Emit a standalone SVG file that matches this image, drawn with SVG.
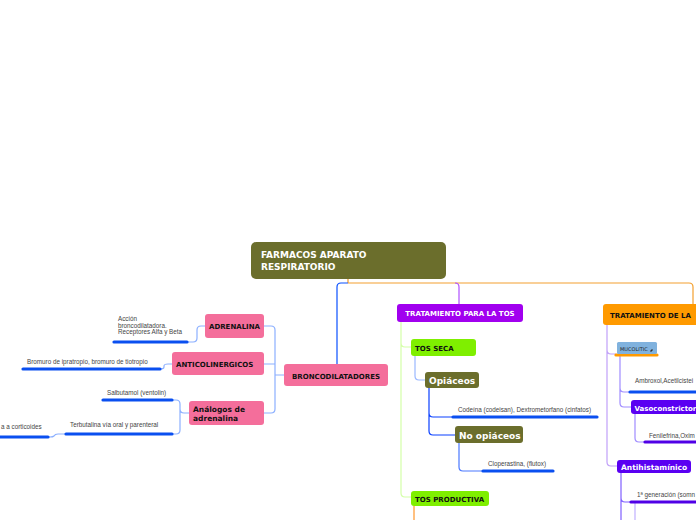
<svg xmlns="http://www.w3.org/2000/svg" width="696" height="520" viewBox="0 0 696 520">
<style>
.b{font-family:"DejaVu Sans",Verdana,sans-serif;font-weight:bold}
.s{font-family:"Liberation Sans",Arial,sans-serif;font-size:6.3px;fill:#444}
.c{fill:none;stroke-width:1.2}
.lb{stroke:#8cb0ff}
.ul{fill:none;stroke-width:3.2;stroke-linecap:round}
</style>
<rect width="696" height="520" fill="#ffffff"/>
<g id="connectors">
<path class="c" d="M348 279V283" stroke="#f0962a"/>
<path class="c" d="M348 283H689Q693 283 693 287V304" stroke="#f4a030"/>
<path class="c" d="M348 283H341Q337 283 337 287V364" stroke="#0a50ff"/>
<path class="c" d="M455 283Q459 283 459 287V304" stroke="#b050ff"/>
<path class="c" d="M401 322V343Q401 347 405 347H411M401 343V493Q401 497 405 497H411" stroke="#d4ffa8"/>
<path class="c" d="M607 325V350Q607 354 611 354H616M607 350V462Q607 466 611 466H617" stroke="#c0a0f8"/>
<path class="c lb" d="M284 375H275M264 326H271Q275 326 275 330V409Q275 413 271 413H264M264 364H275"/>
<path class="c lb" d="M205 326H201Q197 326 197 330V338Q197 342 193 342H187"/>
<path class="c lb" d="M172 364H168Q164 364 164 366V367Q164 369 160 369"/>
<path class="c lb" d="M189 413H184Q180 413 180 409V404Q180 400 176 400H172M180 409V430Q180 434 176 434H172"/>
<path class="c lb" d="M65 434H58Q55 434 54 436Q53 437 50 437H48"/>
<path class="c" d="M415 356V376Q415 380 419 380H425" stroke="#9ab8ff"/>
<path class="c" d="M429 388V413Q429 417 433 417H453M429 413V431Q429 435 433 435H455" stroke="#0a40ff"/>
<path class="c" d="M459 443V467Q459 471 463 471H483" stroke="#4a78ff"/>
<path class="c" d="M620 355V388Q620 392 624 392H630M620 388V403Q620 407 624 407H631" stroke="#a08cff"/>
<path class="c" d="M635 414V438Q635 442 639 442H645" stroke="#a08cff"/>
<path class="c" d="M621 473V520M621 498Q621 502 625 502H631" stroke="#8060ff"/>
<path class="c" d="M635 502V520" stroke="#c0b0ff"/>
<path d="M414 506V520" stroke="#ffc080" stroke-width="2" fill="none"/>
<path class="ul" d="M114 342H187M23 369H160M103 400H172M66 434H172M-2 437H48M453 417H597M483 471H553M630 392H700" stroke="#0a4ff0"/>
<path class="ul" d="M645 442H700M631 502H700" stroke="#5000e6"/>
<path class="ul" d="M616 355H657" stroke="#ff9a00" stroke-linecap="butt"/>
</g>
<g id="root">
<rect x="251" y="242" width="195" height="37" rx="5" fill="#6b6e2c"/>
<text class="b" x="261" y="258" font-size="9" fill="#fff">FARMACOS APARATO</text>
<text class="b" x="261" y="269.5" font-size="9" fill="#fff">RESPIRATORIO</text>
</g>
<g id="bronco">
<rect x="284" y="364" width="104" height="22" rx="3" fill="#f46e9b"/>
<text class="b" x="336" y="378.5" font-size="7" text-anchor="middle" fill="#111">BRONCODILATADORES</text>
</g>
<g id="adrenalina">
<rect x="205" y="314" width="59" height="24" rx="3" fill="#f46e9b"/>
<text class="b" x="234.5" y="329" font-size="7" text-anchor="middle" fill="#111">ADRENALINA</text>
</g>
<g id="anticolinergicos">
<rect x="172" y="352" width="92" height="23" rx="3" fill="#f46e9b"/>
<text class="b" x="176" y="367" font-size="7" fill="#111">ANTICOLINERGICOS</text>
</g>
<g id="analogos">
<rect x="189" y="401" width="75" height="24" rx="3" fill="#f46e9b"/>
<text class="b" x="193" y="412" font-size="7.5" fill="#111">Análogos de</text>
<text class="b" x="193" y="421" font-size="7.5" fill="#111">adrenalina</text>
</g>
<g id="accion">
<text class="s" x="118" y="321">Acción</text>
<text class="s" x="118" y="327.5">broncodilatadora.</text>
<text class="s" x="118" y="334">Receptores Alfa y Beta</text>
</g>
<g id="bromuro"><text class="s" x="27" y="364">Bromuro de ipratropio, bromuro de tiotropio</text></g>
<g id="salbutamol"><text class="s" x="107" y="395">Salbutamol (ventolin)</text></g>
<g id="terbutalina"><text class="s" x="70" y="427">Terbutalina vía oral y parenteral</text></g>
<g id="corticoides"><text class="s" x="1" y="429">a a corticoides</text></g>
<g id="tos">
<rect x="397" y="304" width="126" height="18" rx="3" fill="#a100ef"/>
<text class="b" x="460" y="316" font-size="7" text-anchor="middle" fill="#fff">TRATAMIENTO PARA LA TOS</text>
</g>
<g id="tratamiento2">
<rect x="603" y="304" width="110" height="21" rx="3" fill="#ff9a00"/>
<text class="b" x="610" y="318" font-size="7" fill="#111">TRATAMIENTO DE LA</text>
</g>
<g id="tosseca">
<rect x="411" y="339" width="65" height="17" rx="3" fill="#7fef00"/>
<text class="b" x="415" y="350.5" font-size="7" fill="#111">TOS SECA</text>
</g>
<g id="opiaceos">
<rect x="425" y="372" width="54" height="16" rx="3" fill="#6b6e2c"/>
<text class="b" x="429" y="384" font-size="9" fill="#fff">Opiáceos</text>
</g>
<g id="codeina"><text class="s" x="458" y="412">Codeína (codeisan), Dextrometorfano (cinfatos)</text></g>
<g id="noopiaceos">
<rect x="455" y="426" width="68" height="17" rx="3" fill="#6b6e2c"/>
<text class="b" x="459" y="438.5" font-size="9" fill="#fff">No opiáceos</text>
</g>
<g id="cloperastina"><text class="s" x="488" y="465.5">Cloperastina,  (flutox)</text></g>
<g id="tosproductiva">
<rect x="411" y="491" width="78" height="15" rx="3" fill="#7fef00"/>
<text class="b" x="415" y="501.5" font-size="7" fill="#111">TOS PRODUCTIVA</text>
</g>
<g id="mucolitic">
<rect x="617" y="342" width="40" height="12" rx="1.5" fill="#80b2de"/>
<text x="620" y="350.5" font-family="DejaVu Sans,Verdana,sans-serif" font-size="5" fill="#222">MUCOLITIC</text>
<path d="M650 351l2-2 1 1-2 2z" fill="#333"/>
</g>
<g id="ambroxol"><text class="s" x="635" y="383">Ambroxol,Acetilcistei</text></g>
<g id="vasoconstrictor">
<rect x="631" y="400" width="80" height="14" rx="3" fill="#5a00f2"/>
<text class="b" x="634.5" y="410.5" font-size="7" fill="#fff">Vasoconstrictor</text>
</g>
<g id="fenilefrina"><text class="s" x="649" y="438" font-size="5.8">Fenilefrina,Oxim</text></g>
<g id="antihistaminico">
<rect x="617" y="460" width="74" height="13" rx="3" fill="#5a00f2"/>
<text class="b" x="621" y="470" font-size="7.5" fill="#fff">Antihistamínico</text>
</g>
<g id="generacion"><text class="s" x="637" y="497">1ª generación (somn</text></g>
</svg>
